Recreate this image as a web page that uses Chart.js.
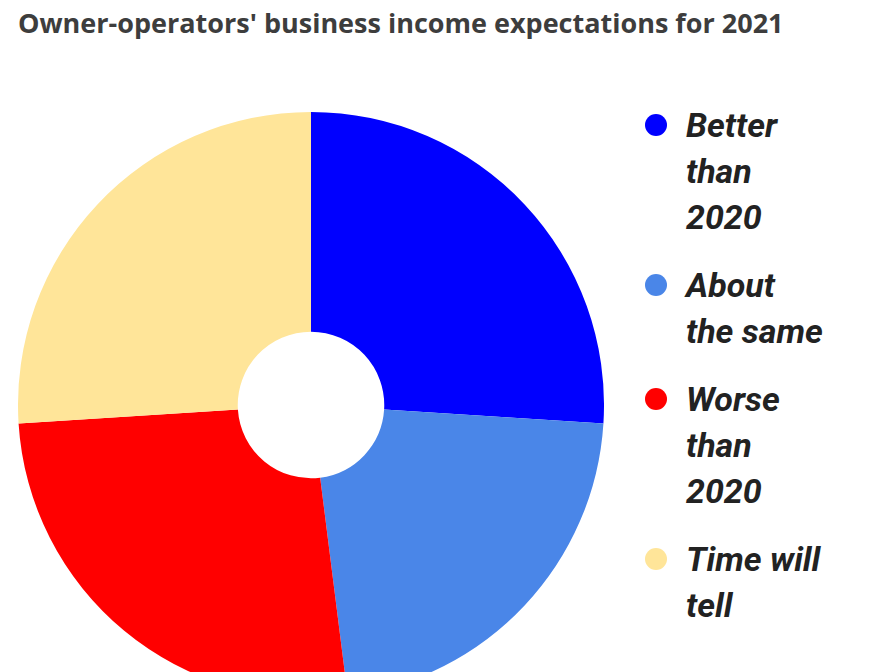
<!DOCTYPE html>
<html><head><meta charset="utf-8">
<script src="https://cdn.jsdelivr.net/npm/chart.js@4"></script>
<style>
body{margin:0;width:871px;height:672px;overflow:hidden;background:#fff;position:relative;font-family:"Open Sans",sans-serif}
#title{position:absolute;left:18px;top:2px;font-weight:700;font-size:27px;line-height:42px;color:#3d3d3d;width:820px}
#wrap{position:absolute;left:18px;top:112px;width:586px;height:586px}
#legend{position:absolute;left:645px;top:102px;font-family:Roboto,sans-serif;font-style:italic;font-weight:700;font-size:34px;line-height:46px;color:#222}
.item{display:flex;margin-bottom:22px}
.dot{width:22px;height:22px;border-radius:50%;margin-top:12px;margin-right:19px;flex:none}
</style></head><body>
<div id="title">Owner-operators' business income expectations for 2021</div>
<div id="wrap"><canvas id="c" width="586" height="586"></canvas></div>
<div id="legend"></div>
<script>
const labels=["Better than 2020","About the same","Worse than 2020","Time will tell"];
const labelLines=[["Better","than","2020"],["About","the same"],["Worse","than","2020"],["Time will","tell"]];
const values=[26,22,26,26];
const colors=["#0000ff","#4a86e8","#ff0000","#ffe599"];
new Chart(document.getElementById('c'),{type:'doughnut',
data:{labels:labels,datasets:[{data:values,backgroundColor:colors,borderWidth:0}]},
options:{responsive:false,animation:false,cutout:'25%',layout:{padding:0},
plugins:{legend:{display:false},tooltip:{enabled:false}}}});
const lg=document.getElementById('legend');
labelLines.forEach((l,i)=>{const d=document.createElement('div');d.className='item';
d.innerHTML='<div class="dot" style="background:'+colors[i]+'"></div><div>'+l.join('<br>')+'</div>';lg.appendChild(d);});
</script></body></html>
